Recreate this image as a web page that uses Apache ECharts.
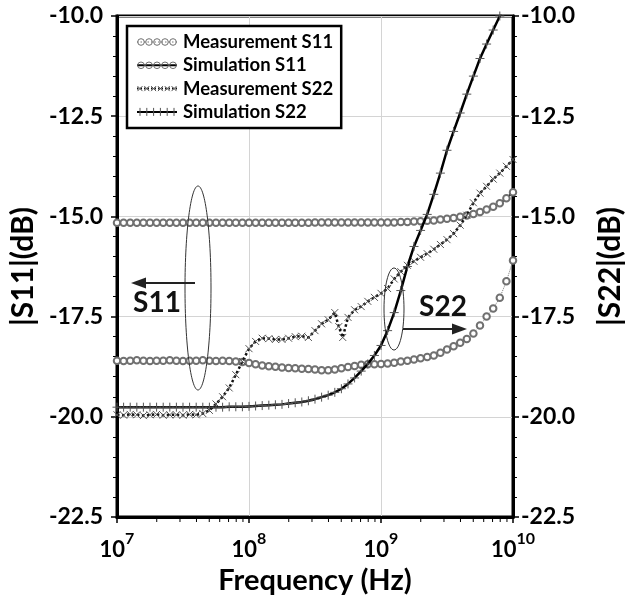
<!DOCTYPE html>
<html><head><meta charset="utf-8">
<script src="https://cdn.jsdelivr.net/npm/echarts@6/dist/echarts.min.js"></script>
<style>html,body{margin:0;padding:0;background:#fff}#c{width:633px;height:600px}</style>
</head><body><div id="c"></div>
<script>
// Frequencies (Hz), log-spaced sweep points
const freqs = [
  1.000e7,1.122e7,1.259e7,1.413e7,1.585e7,1.778e7,1.995e7,2.239e7,2.512e7,2.818e7,
  3.162e7,3.548e7,3.981e7,4.467e7,5.012e7,5.623e7,6.310e7,7.079e7,7.943e7,8.913e7,
  1.000e8,1.122e8,1.259e8,1.413e8,1.585e8,1.778e8,1.995e8,2.239e8,2.512e8,2.818e8,
  3.162e8,3.548e8,3.981e8,4.467e8,5.012e8,5.623e8,6.310e8,7.079e8,7.943e8,8.913e8,
  1.000e9,1.122e9,1.259e9,1.413e9,1.585e9,1.778e9,1.995e9,2.239e9,2.512e9,2.818e9,
  3.162e9,3.548e9,3.981e9,4.467e9,5.012e9,5.623e9,6.310e9,7.079e9,7.943e9,8.913e9,
  1.000e10
];
const freqsMeasS22 = [
  1.000e7,1.122e7,1.259e7,1.413e7,1.585e7,1.778e7,1.995e7,2.239e7,2.512e7,2.818e7,
  3.162e7,3.548e7,3.981e7,4.467e7,5.012e7,5.623e7,6.310e7,7.079e7,7.943e7,8.913e7,
  1.000e8,1.122e8,1.259e8,1.413e8,1.585e8,1.778e8,1.995e8,2.239e8,2.512e8,2.818e8,
  3.162e8,3.548e8,3.981e8,4.467e8,4.786e8,5.129e8,5.623e8,6.310e8,7.079e8,7.943e8,8.913e8,
  1.000e9,1.122e9,1.259e9,1.413e9,1.585e9,1.778e9,1.995e9,2.239e9,2.512e9,2.818e9,
  3.162e9,3.548e9,3.981e9,4.467e9,5.012e9,5.623e9,6.310e9,7.079e9,7.943e9,8.913e9,
  1.000e10
];
// |S11| measurement (dB)
const measS11 = [
  -18.60,-18.61,-18.60,-18.59,-18.60,-18.61,-18.60,-18.60,-18.59,-18.60,
  -18.61,-18.60,-18.60,-18.59,-18.60,-18.61,-18.60,-18.61,-18.62,-18.63,
  -18.66,-18.69,-18.72,-18.74,-18.75,-18.77,-18.78,-18.79,-18.80,-18.81,
  -18.82,-18.84,-18.84,-18.82,-18.79,-18.76,-18.73,-18.70,-18.69,-18.69,
  -18.68,-18.67,-18.65,-18.62,-18.60,-18.57,-18.54,-18.51,-18.47,-18.40,
  -18.32,-18.24,-18.15,-18.06,-17.92,-17.72,-17.50,-17.30,-17.03,-16.62,
  -16.10
];
// |S11| simulation (dB)
const simS11 = [
  -15.16,-15.16,-15.16,-15.16,-15.16,-15.16,-15.16,-15.16,-15.16,-15.16,
  -15.16,-15.16,-15.16,-15.16,-15.16,-15.16,-15.16,-15.16,-15.16,-15.16,
  -15.16,-15.16,-15.16,-15.16,-15.16,-15.16,-15.16,-15.16,-15.16,-15.16,
  -15.15,-15.15,-15.15,-15.15,-15.15,-15.15,-15.15,-15.15,-15.15,-15.15,
  -15.15,-15.15,-15.15,-15.14,-15.14,-15.13,-15.12,-15.11,-15.10,-15.08,
  -15.06,-15.04,-15.01,-14.98,-14.94,-14.89,-14.83,-14.76,-14.67,-14.55,
  -14.40
];
// |S22| measurement (dB)
const measS22 = [
  -19.95,-19.96,-19.94,-19.95,-19.97,-19.95,-19.94,-19.96,-19.95,-19.95,
  -19.96,-19.94,-19.95,-19.92,-19.84,-19.68,-19.50,-19.28,-18.95,-18.62,
  -18.30,-18.12,-18.04,-18.05,-18.07,-18.07,-18.04,-18.00,-17.99,-18.02,
  -17.85,-17.68,-17.58,-17.40,-17.75,-18.02,-17.52,-17.33,-17.25,-17.12,-17.02,
  -16.92,-16.80,-16.56,-16.38,-16.22,-16.12,-16.02,-15.93,-15.82,-15.70,
  -15.58,-15.43,-15.22,-14.97,-14.66,-14.42,-14.25,-14.07,-13.92,-13.75,
  -13.58
];
// |S22| simulation (dB)
const simS22 = [
  -19.76,-19.76,-19.76,-19.76,-19.76,-19.76,-19.76,-19.76,-19.76,-19.76,
  -19.76,-19.76,-19.76,-19.76,-19.76,-19.76,-19.76,-19.75,-19.75,-19.75,
  -19.74,-19.73,-19.72,-19.71,-19.70,-19.69,-19.67,-19.65,-19.63,-19.60,
  -19.56,-19.51,-19.46,-19.39,-19.30,-19.18,-19.03,-18.86,-18.68,-18.47,
  -18.22,-17.85,-17.40,-16.85,-16.25,-15.75,-15.35,-14.95,-14.45,-13.92,
  -13.35,-12.88,-12.42,-11.95,-11.50,-11.06,-10.70,-10.35,-10.00,-9.65,
  -9.30
];
const seriesNames = ['Measurement S11','Simulation S11','Measurement S22','Simulation S22'];
const yTicks = [-22.5,-20.0,-17.5,-15.0,-12.5,-10.0];

function pairs(xs, ys){ return xs.map((x,i)=>[x, ys[i]]); }

const FONT = 'Lato';
const chart = echarts.init(document.getElementById('c'), null, {renderer:'canvas'});

const yAxisBase = {
  type:'value', min: yTicks[0], max: yTicks[yTicks.length-1], interval: 2.5,
  axisLine:{show:true, lineStyle:{color:'#000', width:3}},
  axisTick:{show:true, inside:false, length:6, lineStyle:{color:'#000', width:1.5}},
  minorTick:{show:true, splitNumber:5, length:4, lineStyle:{color:'#000', width:1}},
  splitLine:{show:true, lineStyle:{color:'#d4d4d4', width:1}},
  axisLabel:{color:'#000', fontFamily:FONT, fontWeight:'bold', fontSize:23, formatter:v=>v.toFixed(1)},
  nameLocation:'middle', nameRotate:90,
  nameTextStyle:{color:'#000', fontFamily:FONT, fontWeight:'bold', fontSize:30}
};

const X_SYM = 'path://M0,0L10,10M10,0L0,10';
const PLUS_SYM = 'path://M5,0L5,10M0,5L10,5';

// legend layout
const LEG = {left:127, top:26, padTop:6, padLeft:10, rowH:20, gap:3.3, iconW:40};

chart.setOption({
  animation:false,
  backgroundColor:'#fff',
  grid:{left:117, right:113, top:16, bottom:79, show:true, borderColor:'#000', borderWidth:3, backgroundColor:'transparent'},
  legend:{
    orient:'vertical', left:LEG.left, top:LEG.top, data:seriesNames,
    itemWidth:LEG.iconW, itemHeight:9, itemGap:LEG.gap,
    padding:[LEG.padTop,8,6,LEG.padLeft],
    borderColor:'#000', borderWidth:2.5, backgroundColor:'#fff',
    selectedMode:false,
    itemStyle:{opacity:0}, lineStyle:{opacity:0},
    textStyle:{color:'#000', fontFamily:FONT, fontWeight:'bold', fontSize:18.5, lineHeight:LEG.rowH}
  },
  xAxis:{
    type:'log', logBase:10, min:1e7, max:1e10,
    name:'Frequency (Hz)', nameLocation:'middle', nameGap:49,
    nameTextStyle:{color:'#000', fontFamily:FONT, fontWeight:'bold', fontSize:29},
    axisLine:{show:true, lineStyle:{color:'#000', width:3}},
    axisTick:{show:true, inside:false, length:6, lineStyle:{color:'#000', width:1.5}},
    splitLine:{show:true, lineStyle:{color:'#d4d4d4', width:1}},
    axisLabel:{
      margin:14,
      formatter: v => '{b|10}{s|' + Math.round(Math.log10(v)) + '}',
      rich:{
        b:{color:'#000', fontFamily:FONT, fontWeight:'bold', fontSize:22, lineHeight:30, verticalAlign:'bottom'},
        s:{color:'#000', fontFamily:FONT, fontWeight:'bold', fontSize:16, lineHeight:18, verticalAlign:'top'}
      }
    }
  },
  yAxis:[
    Object.assign({}, yAxisBase, {position:'left', name:'|S11|(dB)', nameGap:78,
      axisLabel:Object.assign({}, yAxisBase.axisLabel, {margin:14})}),
    Object.assign({}, yAxisBase, {position:'right', name:'|S22|(dB)', nameGap:82,
      splitLine:{show:false},
      axisLabel:Object.assign({}, yAxisBase.axisLabel, {margin:8})})
  ],
  series:[
    {
      name:seriesNames[0], type:'line', data:pairs(freqs, measS11), yAxisIndex:0,
      symbol:'emptyCircle', symbolSize:6.5, showAllSymbol:true,
      lineStyle:{color:'#777', width:1, type:'dotted'},
      itemStyle:{color:'#707070', borderColor:'#707070', borderWidth:1}, z:3
    },
    {
      name:seriesNames[1], type:'line', data:pairs(freqs, simS11), yAxisIndex:0,
      symbol:'emptyCircle', symbolSize:6.5, showAllSymbol:true,
      lineStyle:{color:'#000', width:2, type:'solid'},
      itemStyle:{color:'#707070', borderColor:'#707070', borderWidth:1}, z:4
    },
    {
      name:seriesNames[2], type:'line', data:pairs(freqsMeasS22, measS22), yAxisIndex:1,
      symbol:X_SYM, symbolSize:7, showAllSymbol:true,
      lineStyle:{color:'#111', width:2.5, type:'dotted'},
      itemStyle:{color:'#555', borderColor:'#555', borderWidth:1}, z:5
    },
    {
      name:seriesNames[3], type:'line', data:pairs(freqs, simS22), yAxisIndex:1,
      symbol:PLUS_SYM, symbolSize:9, showAllSymbol:true,
      lineStyle:{color:'#000', width:2.5, type:'solid'},
      itemStyle:{color:'#555', borderColor:'#555', borderWidth:1}, z:6
    }
  ]
});

const gfx = [];
// minor log ticks on the frequency axis
const yBottom = chart.convertToPixel({yAxisIndex:0}, yTicks[0]);
for (let d = 7; d < 10; d++) {
  for (let k = 2; k <= 9; k++) {
    const px = chart.convertToPixel({xAxisIndex:0}, k * Math.pow(10, d));
    gfx.push({type:'line', shape:{x1:px, y1:yBottom+1, x2:px, y2:yBottom+5}, style:{stroke:'#000', lineWidth:1}, z:50});
  }
}
// legend sample icons (repeated markers like the original)
const ix0 = LEG.left + LEG.padLeft, ix1 = ix0 + LEG.iconW;
for (let r = 0; r < 4; r++) {
  const cy = LEG.top + LEG.padTop + LEG.rowH/2 + r*(LEG.rowH + LEG.gap);
  if (r === 1 || r === 3) {
    gfx.push({type:'line', shape:{x1:ix0, y1:cy, x2:ix1, y2:cy}, style:{stroke:'#000', lineWidth:2}, z:120});
  } else {
    gfx.push({type:'line', shape:{x1:ix0, y1:cy, x2:ix1, y2:cy}, style:{stroke:r===0?'#777':'#111', lineWidth:r===0?1:2, lineDash:[1.5,2]}, z:120});
  }
  if (r < 2) {
    for (let j = 0; j < 5; j++) {
      gfx.push({type:'circle', shape:{cx:ix0+4+j*8, cy:cy, r:3.3}, style:{fill:null, stroke:'#707070', lineWidth:1}, z:121});
    }
  } else {
    for (let j = 0; j < 6; j++) {
      const cx = ix0+3+j*6.8;
      if (r === 2) {
        gfx.push({type:'polyline', shape:{points:[[cx-2.5,cy-2.5],[cx+2.5,cy+2.5]]}, style:{stroke:'#555', lineWidth:1}, z:121});
        gfx.push({type:'polyline', shape:{points:[[cx+2.5,cy-2.5],[cx-2.5,cy+2.5]]}, style:{stroke:'#555', lineWidth:1}, z:121});
      } else {
        gfx.push({type:'line', shape:{x1:cx, y1:cy-4, x2:cx, y2:cy+4}, style:{stroke:'#555', lineWidth:1}, z:121});
      }
    }
  }
}
// S11 annotation
gfx.push({type:'ellipse', shape:{cx:198, cy:288, rx:13, ry:102}, style:{fill:null, stroke:'#333', lineWidth:1}, z:60});
gfx.push({type:'line', shape:{x1:195, y1:283, x2:142, y2:283}, style:{stroke:'#222', lineWidth:2}, z:60});
gfx.push({type:'polygon', shape:{points:[[131,283],[146,277.5],[146,288.5]]}, style:{fill:'#222'}, z:60});
gfx.push({type:'text', x:157, y:303, style:{text:'S11', fontFamily:FONT, fontWeight:'bold', fontSize:28, fill:'#111', align:'center', verticalAlign:'middle'}, z:60});
// S22 annotation
gfx.push({type:'ellipse', shape:{cx:394, cy:309, rx:10, ry:41}, style:{fill:null, stroke:'#333', lineWidth:1}, z:60});
gfx.push({type:'line', shape:{x1:403, y1:329, x2:455, y2:329}, style:{stroke:'#222', lineWidth:2}, z:60});
gfx.push({type:'polygon', shape:{points:[[467,329],[452,323.5],[452,334.5]]}, style:{fill:'#222'}, z:60});
gfx.push({type:'text', x:443, y:307, style:{text:'S22', fontFamily:FONT, fontWeight:'bold', fontSize:28, fill:'#111', align:'center', verticalAlign:'middle'}, z:60});
chart.setOption({graphic:gfx});
</script>
</body></html>
